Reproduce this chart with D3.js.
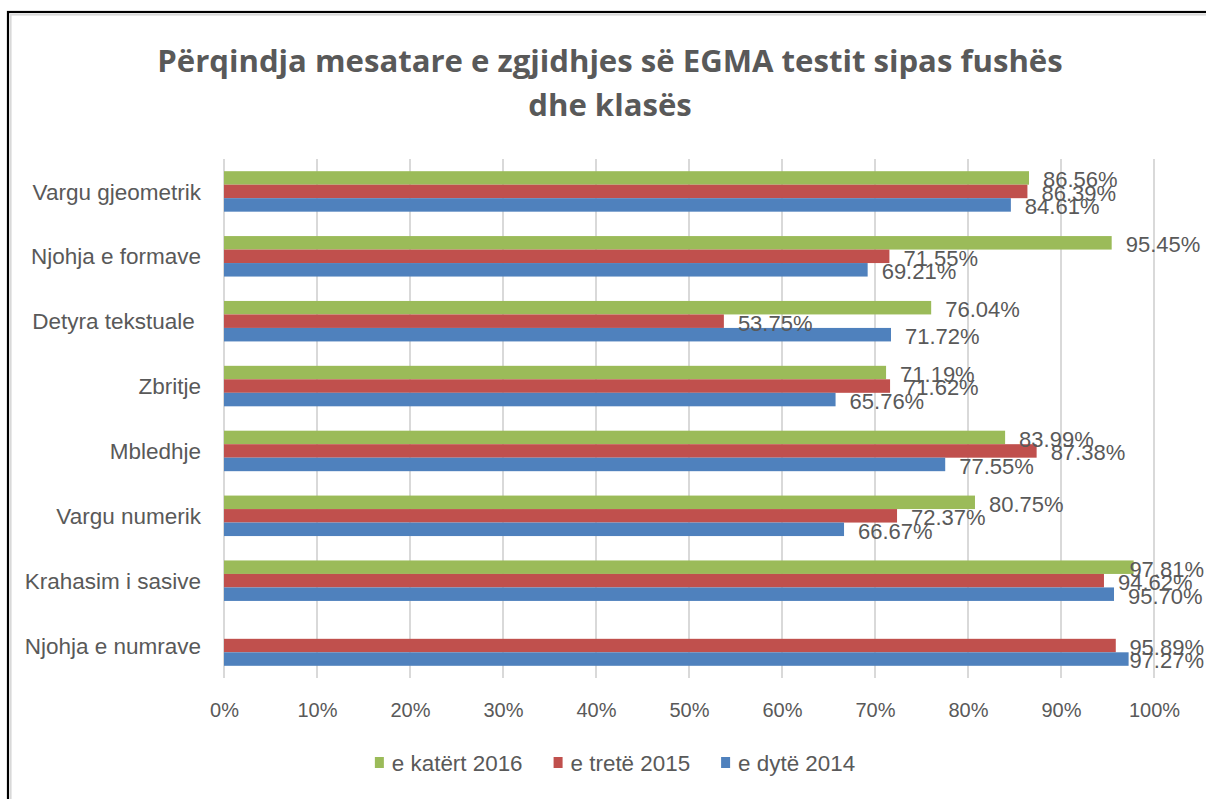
<!DOCTYPE html>
<html>
<head>
<meta charset="utf-8">
<script src="https://cdn.jsdelivr.net/npm/d3@7"></script>
<style>
  html, body { margin: 0; padding: 0; background: #fff; }
  svg { display: block; }
  text { font-family: "Liberation Sans", Arial, sans-serif; }
</style>
</head>
<body>
<svg id="chart" width="1206" height="799"></svg>
<script>
const titleLines = ["Përqindja mesatare e zgjidhjes së EGMA testit sipas fushës", "dhe klasës"];
const categories = ["Vargu gjeometrik", "Njohja e formave", "Detyra tekstuale ", "Zbritje", "Mbledhje", "Vargu numerik", "Krahasim i sasive", "Njohja e numrave"];
const seriesNames = ["e katërt 2016", "e tretë 2015", "e dytë 2014"];
const seriesColors = ["#9BBB59", "#C0504D", "#4F81BD"];
const grade4_2016 = [86.56, 95.45, 76.04, 71.19, 83.99, 80.75, 97.81, null];
const grade3_2015 = [86.39, 71.55, 53.75, 71.62, 87.38, 72.37, 94.62, 95.89];
const grade2_2014 = [84.61, 69.21, 71.72, 65.76, 77.55, 66.67, 95.70, 97.27];
const xTicks = [0, 10, 20, 30, 40, 50, 60, 70, 80, 90, 100];

const seriesValues = [grade4_2016, grade3_2015, grade2_2014];
const svg = d3.select("#chart");
const textColor = "#595959";

// frame
svg.append("rect").attr("x", 8).attr("y", 12).attr("width", 1300).attr("height", 900)
  .attr("fill", "none").attr("stroke", "#000").attr("stroke-width", 2.2);
svg.append("rect").attr("x", 10.8).attr("y", 14.8).attr("width", 1300).attr("height", 900)
  .attr("fill", "none").attr("stroke", "#d9d9d9").attr("stroke-width", 1.6);

// title
const titles = svg.append("g").selectAll("text").data(titleLines).join("text")
  .attr("x", 610).attr("y", (d, i) => 72 + i * 44)
  .attr("text-anchor", "middle")
  .style("font-family", "'Open Sans', 'Liberation Sans', sans-serif")
  .style("font-weight", "bold").style("font-size", "28px")
  .attr("fill", textColor).text(d => d);
const tw = titles.node().getComputedTextLength();
const titleSize = 28 * 906 / tw;
titles.style("font-size", titleSize + "px");

const plot = { left: 224, right: 1154, top: 159, bottom: 678 };
const x = d3.scaleLinear().domain([0, 100]).range([plot.left, plot.right]);
const y = d3.scaleBand().domain(categories).range([plot.top, plot.bottom])
  .paddingInner(0.376).paddingOuter(0.188);
const ySub = d3.scaleBand().domain(seriesNames).range([0, y.bandwidth()]);

// gridlines
svg.append("g").selectAll("line").data(xTicks).join("line")
  .attr("x1", d => x(d)).attr("x2", d => x(d))
  .attr("y1", plot.top).attr("y2", plot.bottom)
  .attr("stroke", "#d9d9d9").attr("stroke-width", 2);

// x axis tick labels
const xAxis = d3.axisBottom(x).tickValues(xTicks).tickFormat(d => d + "%").tickSize(0).tickPadding(0);
const gx = svg.append("g").attr("transform", `translate(0, ${plot.bottom})`).call(xAxis);
gx.select(".domain").remove();
gx.selectAll("text").attr("font-size", 20).attr("fill", textColor)
  .attr("dy", null).attr("y", 39);

// y axis category labels
const yAxis = d3.axisLeft(y).tickSize(0).tickPadding(0);
const gy = svg.append("g").attr("transform", `translate(201, 0)`).call(yAxis);
gy.select(".domain").remove();
gy.selectAll("text").attr("font-size", 22.5).attr("fill", textColor)
  .style("white-space", "pre").attr("dy", "0.36em");

// bars
const rows = [];
categories.forEach((c, ci) => {
  seriesNames.forEach((s, si) => {
    const v = seriesValues[si][ci];
    if (v !== null) rows.push({ cat: c, series: s, si, value: v });
  });
});

svg.append("g").selectAll("rect").data(rows).join("rect")
  .attr("x", x(0))
  .attr("y", d => y(d.cat) + ySub(d.series))
  .attr("width", d => x(d.value) - x(0))
  .attr("height", ySub.bandwidth())
  .attr("fill", d => seriesColors[d.si]);

// data labels
const labelRight = 1204;
const lbl = svg.append("g").selectAll("text").data(rows).join("text")
  .attr("y", d => y(d.cat) + ySub(d.series) + ySub.bandwidth() / 2 + 1.5)
  .attr("dy", "0.36em")
  .attr("font-size", 22).attr("fill", textColor)
  .text(d => d.value.toFixed(2) + "%");
lbl.each(function(d) {
  const w = this.getComputedTextLength();
  const xs = Math.min(x(d.value) + 14, labelRight - w);
  d3.select(this).attr("x", xs);
});

// legend
const legend = svg.append("g");
const items = legend.selectAll("g").data(seriesNames).join("g");
items.append("rect").attr("x", 0).attr("y", -6).attr("width", 9).attr("height", 11)
  .attr("fill", (d, i) => seriesColors[i]);
items.append("text").attr("x", 17).attr("y", 0).attr("dy", "0.36em")
  .attr("font-size", 22.4).attr("fill", textColor).text(d => d);
let cursor = 0;
const offsets = [];
items.each(function() {
  offsets.push(cursor);
  const w = d3.select(this).select("text").node().getComputedTextLength();
  cursor += 17 + w + 31;
});
const totalW = cursor - 31;
const legendStart = 615 - totalW / 2;
items.attr("transform", (d, i) => `translate(${legendStart + offsets[i]}, 763)`);
</script>
</body>
</html>
